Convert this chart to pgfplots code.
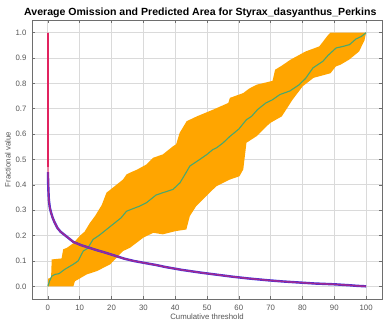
\documentclass[border=0pt]{standalone}
\usepackage{pgfplots}
\pgfplotsset{compat=1.18}
\usepackage{fontspec}
\setmainfont{Liberation Sans}
\definecolor{gridc}{RGB}{218,218,218}
\definecolor{framec}{RGB}{110,110,110}
\definecolor{tickc}{RGB}{85,85,85}
\definecolor{bandc}{RGB}{255,165,0}
\definecolor{omc}{RGB}{72,168,112}
\definecolor{areac}{RGB}{225,35,95}
\definecolor{areasd}{RGB}{60,50,225}
\begin{document}
\begin{tikzpicture}[x=1pt,y=1pt]
\begin{axis}[
  at={(32pt,34pt)}, anchor=south west,
  scale only axis, width=350pt, height=279pt,
  xmin=-5, xmax=105, ymin=-0.05, ymax=1.05,
  xtick={0,10,...,100},
  ytick={0,0.1,0.2,0.3,0.4,0.5,0.6,0.7,0.8,0.9,1.0},
  yticklabel style={/pgf/number format/fixed, /pgf/number format/fixed zerofill, /pgf/number format/precision=1, xshift=-2pt},
  /pgf/number format/assume math mode=true,
  tick label style={font=\fontsize{7.8}{9}\selectfont, text=tickc},
  xticklabel style={yshift=-3pt},
  grid=major,
  major grid style={gridc, line width=0.9pt},
  axis line style={framec, line width=0.8pt},
  tick style={framec, line width=0.6pt},
  major tick length=3pt,
  tick align=inside,
  xlabel={Cumulative threshold},
  ylabel={Fractional value},
  label style={font=\fontsize{7.8}{9}\selectfont, text=tickc},
  xlabel style={yshift=4pt},
  ylabel style={yshift=-2pt},
]
% orange band (std dev of omission)
\addplot[fill=bandc, draw=none] coordinates {
(0,0) (0.1,0.03) (1,0.035) (1.2,0.106) (4.3,0.11) (4.8,0.146) (6,0.152) (8,0.17) (10.1,0.2) (11.5,0.215) (13.2,0.25) (14.8,0.277) (16.9,0.32) (18.4,0.369) (21,0.395) (23.6,0.421) (24.7,0.441) (25.8,0.448) (28,0.46) (30.9,0.48) (33.1,0.507) (36.1,0.52) (39.3,0.552) (40.3,0.56) (41.4,0.605) (43.6,0.651) (46.8,0.67) (52,0.697) (56.7,0.723) (57.2,0.743) (61.4,0.762) (63.3,0.78) (65.6,0.795) (70.6,0.81) (71.4,0.854) (73.5,0.87) (76.3,0.894) (81,0.926) (85.3,0.946) (88,0.99) (88.8,1.0) (100,1.0)
(100,1.0) (99.5,0.97) (97.8,0.926) (94.7,0.894) (92,0.874) (90.5,0.867) (88.8,0.84) (83.5,0.822) (80.1,0.789) (76.9,0.736) (73.5,0.67) (70,0.645) (68.7,0.631) (65.6,0.592) (62.4,0.566) (61.4,0.461) (60.2,0.434) (57.2,0.421) (53,0.395) (50.8,0.369) (46.6,0.316) (44.6,0.277) (43.5,0.224) (40.3,0.218) (36.1,0.205) (33.1,0.211) (30,0.192) (25.8,0.152) (23.6,0.139) (19.6,0.087) (15.4,0.06) (12.2,0.047) (8.5,0.02) (8,0) (0,0)
} -- cycle;
% mean omission
\addplot[omc, line width=1.1pt] coordinates {
(0,0) (0.5,0.02) (1.2,0.04) (2.2,0.047) (3.5,0.05) (5.3,0.067) (8,0.087) (9.5,0.1) (11.1,0.139) (12.5,0.15) (14.2,0.185) (16,0.2) (18.4,0.224) (21,0.25) (23,0.27) (24.7,0.296) (26.5,0.305) (28.8,0.316) (31,0.33) (34,0.36) (36.1,0.369) (39.3,0.382) (41.5,0.408) (43.5,0.45) (44.6,0.474) (47.7,0.5) (50,0.52) (51.8,0.539) (53,0.546) (55,0.565) (57.1,0.59) (60,0.62) (62.4,0.657) (64,0.67) (65.9,0.697) (68.5,0.723) (70.5,0.735) (72.9,0.756) (76,0.77) (79,0.795) (81,0.82) (83.3,0.861) (86.4,0.887) (88,0.91) (90.6,0.94) (92.5,0.945) (94.8,0.953) (96.8,0.975) (98.5,0.985) (100,1.0)
};
% std dev of predicted area (blue fringe)
\addplot[areasd, line width=2.4pt] coordinates {
(0.02,0.45) (0.05,0.42) (0.15,0.38) (0.3,0.34) (0.6,0.31) (1,0.29) (1.5,0.27) (2,0.255) (3,0.23) (4,0.215) (5.5,0.2) (8,0.175) (10.5,0.162) (13,0.152) (15.5,0.142) (18,0.133) (21,0.121) (24,0.109) (27,0.1) (30,0.093) (34,0.084) (37,0.076) (42,0.065) (48,0.054) (53,0.046) (58,0.038) (63,0.031) (69,0.024) (74,0.019) (79,0.015) (84,0.011) (90,0.008) (95,0.004) (97,0.002) (100,0)
};
% mean area
\addplot[areac, line width=1.5pt, opacity=0.6] coordinates {
(0,1.0) (0,0.6) (0.05,0.45) (0.15,0.38) (0.3,0.34) (0.6,0.31) (1,0.29) (1.5,0.27) (2,0.255) (3,0.23) (4,0.215) (5.5,0.2) (8,0.175) (10.5,0.162) (13,0.152) (15.5,0.142) (18,0.133) (21,0.121) (24,0.109) (27,0.1) (30,0.093) (34,0.084) (37,0.076) (42,0.065) (48,0.054) (53,0.046) (58,0.038) (63,0.031) (69,0.024) (74,0.019) (79,0.015) (84,0.011) (90,0.008) (95,0.004) (97,0.002) (100,0)
};
\addplot[areac, line width=1.5pt] coordinates {(0,1.0) (0,0.47)};
\end{axis}
\node[anchor=base west, font=\fontsize{10.4}{12}\selectfont\bfseries, inner sep=0pt, xscale=1.015] at (24pt,317pt) {Average Omission and Predicted Area for Styrax\_dasyanthus\_Perkins};
\pgfresetboundingbox
\useasboundingbox (0pt,0pt) rectangle (388pt,333pt);
\end{tikzpicture}
\end{document}
